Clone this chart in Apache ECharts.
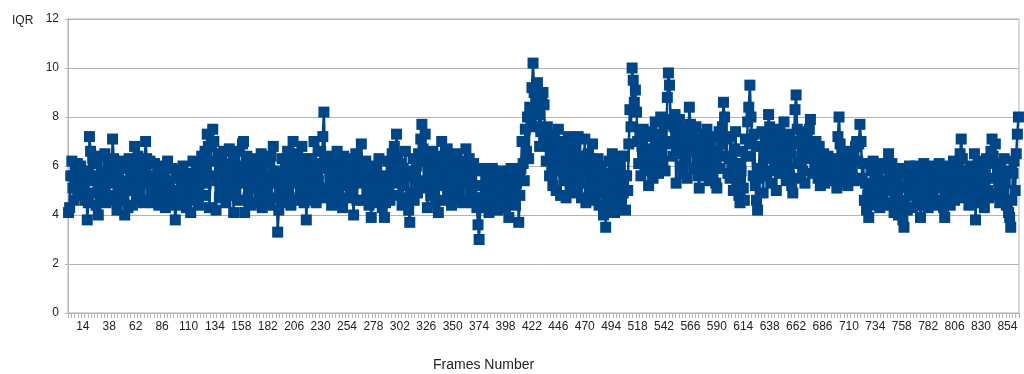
<!DOCTYPE html>
<html>
<head>
<meta charset="utf-8">
<script src="https://cdn.jsdelivr.net/npm/echarts@6/dist/echarts.min.js"></script>
<style>
  html, body { margin: 0; padding: 0; background: #ffffff; }
  #chart { width: 1024px; height: 374px; }
</style>
</head>
<body>
<div id="chart"></div>
<script>
// IQR per frame, in blocks of 24 frames (frames 1-24, 25-48, ...)
const iqrA = [
  4.1,4.3,5.6,6.2,5.1,4.6,5.9,5.3,6.1,4.8,5.5,6.0,4.9,5.7,5.2,4.6,5.8,3.8,4.5,7.2,6.6,5.4,6.3,4.9,
  5.6,4.4,6.1,4.0,5.2,6.4,4.7,5.8,5.0,6.5,4.5,5.5,6.2,4.8,5.9,5.3,7.1,6.3,4.6,5.7,4.2,5.1,6.0,4.9,
  5.4,6.2,4.6,4.0,5.3,5.9,4.3,6.3,5.0,5.7,4.4,6.0,6.8,5.2,4.7,6.4,5.5,4.9,6.1,5.3,4.5,5.8,7.0,6.3,
  5.6,4.6,6.2,5.0,5.5,4.5,6.1,5.3,4.8,5.9,4.4,5.6,6.0,5.1,4.7,5.8,4.3,5.4,6.2,4.9,5.2,4.5,5.9,5.0,
  4.6,3.8,4.4,5.5,4.9,5.8,4.5,5.2,6.0,4.8,5.4,4.3,5.7,5.0,4.6,4.1,5.3,6.2,5.6,4.7,5.9,5.1,4.4,6.1,
  5.5,6.4,4.8,5.9,6.6,5.3,7.3,6.8,4.3,5.6,6.9,7.5,7.0,6.2,4.2,5.4,6.5,4.7,5.8,6.3,4.9,6.6,5.2,4.5
];
const iqrB = [
  6.1,5.2,6.7,4.8,5.9,5.4,4.1,6.3,5.0,6.6,5.7,4.6,6.0,5.3,6.9,7.0,4.1,5.5,6.4,4.7,5.8,6.2,4.4,5.6,
  5.1,6.3,4.5,5.7,6.0,4.8,5.4,6.5,4.3,5.9,5.2,4.6,6.2,5.0,5.6,4.4,6.4,5.3,6.8,5.8,4.7,5.5,3.3,4.2,
  4.8,5.7,6.3,5.1,4.5,6.0,5.4,6.6,4.9,5.8,4.4,6.2,7.0,5.6,6.5,4.6,5.3,6.1,4.7,5.9,6.8,5.0,4.5,6.3,
  3.8,5.2,6.0,4.6,5.6,6.3,4.9,7.0,5.8,4.5,6.1,5.4,4.8,6.6,5.1,7.2,8.2,6.2,4.7,5.9,6.4,5.0,5.5,4.4,
  5.7,6.2,4.8,5.3,6.6,5.0,4.5,6.0,5.5,4.3,6.4,5.2,5.8,4.7,6.1,5.4,4.9,6.3,5.1,4.0,5.6,6.5,4.6,5.9,
  5.3,6.1,6.9,5.8,4.6,5.4,6.2,4.9,5.7,4.4,5.1,3.9,4.8,6.0,5.5,4.5,5.9,5.2,6.3,4.7,5.6,4.3,5.0,3.9
];
const iqrC = [
  4.5,5.4,6.2,5.0,4.6,5.8,6.5,5.3,6.8,5.7,7.3,6.4,4.8,5.5,6.1,4.4,5.9,5.2,6.6,4.7,5.6,4.2,3.7,4.9,
  5.8,6.3,4.6,5.5,6.0,4.9,6.5,5.4,7.1,7.7,6.7,5.1,7.3,6.2,4.3,5.7,6.4,4.8,5.3,6.6,5.0,4.5,6.1,5.6,
  4.1,5.9,6.4,7.0,5.2,4.6,6.1,5.5,6.7,4.8,5.8,6.3,4.4,5.6,6.0,5.1,4.7,6.5,5.4,4.9,6.2,5.7,4.5,5.3,
  6.0,6.7,4.6,5.4,6.3,4.9,5.7,4.5,6.1,4.7,5.8,4.3,3.6,3.0,4.4,5.2,4.7,5.9,4.3,5.5,4.8,5.3,4.1,5.6,
  5.0,5.9,4.4,5.3,4.8,5.7,4.2,5.5,5.1,4.6,5.8,4.9,5.4,4.3,5.6,4.7,3.9,5.2,5.9,4.5,5.0,5.7,4.4,5.3,
  5.5,3.7,4.8,5.9,7.0,6.1,5.4,7.5,6.6,8.0,6.3,8.4,7.8,9.2,10.2,9.0,7.6,8.7,9.4,8.1,6.8,7.4,8.8,9.0
];
const iqrD = [
  8.5,7.2,6.2,7.6,6.8,5.6,7.3,6.0,5.2,7.1,6.5,5.0,6.9,7.5,5.8,4.8,6.4,7.0,5.4,6.7,4.7,6.1,7.2,5.5,
  6.6,5.1,7.0,6.2,4.9,6.8,5.7,7.2,5.3,6.4,4.7,6.0,5.6,7.1,4.5,5.9,6.5,5.0,6.3,4.8,6.9,5.4,6.1,4.6,
  5.8,6.3,4.4,5.5,6.0,4.9,4.0,5.2,3.5,5.7,4.3,6.2,5.0,4.6,6.5,5.4,4.1,5.9,4.7,6.1,5.3,4.5,6.4,5.6,
  4.9,6.4,4.2,5.6,5.0,6.9,8.3,7.6,10.0,9.5,8.6,9.1,8.2,7.0,6.1,7.4,5.6,6.8,7.5,6.2,5.8,7.2,6.5,5.2,
  5.9,6.7,7.4,5.5,6.3,7.8,6.0,7.1,5.7,6.6,8.0,7.3,6.2,7.7,5.8,6.9,8.8,9.8,9.3,7.9,7.0,6.4,7.6,8.1,
  5.3,7.4,6.5,7.9,6.0,7.2,5.7,6.8,7.5,6.2,5.5,7.0,8.4,7.7,6.6,7.3,5.9,6.9,7.6,6.3,5.6,5.1,6.7,7.1
];
const iqrE = [
  6.0,7.3,5.6,6.8,7.5,6.2,5.4,7.0,6.5,5.8,7.2,6.1,5.3,5.1,6.6,7.4,5.9,6.9,7.6,8.6,8.0,6.4,7.1,5.7,
  6.3,5.5,7.2,6.0,5.0,6.7,7.4,5.4,6.1,4.8,4.5,5.8,6.6,5.1,4.6,7.1,6.4,7.8,8.4,9.3,8.0,6.9,5.6,7.3,
  5.2,4.6,4.2,5.5,6.8,5.9,7.4,4.9,6.3,7.0,5.6,6.5,8.1,7.6,5.3,6.9,5.8,7.2,6.1,5.0,7.5,6.4,5.7,6.8,
  6.2,7.1,7.8,6.0,5.4,6.7,7.3,5.6,6.5,5.2,4.9,6.9,8.3,8.9,7.5,6.1,5.5,7.0,6.4,5.8,7.2,5.3,6.6,7.4,
  6.3,7.5,7.9,6.6,5.7,6.9,5.9,7.0,6.2,5.5,6.8,5.2,6.0,5.6,6.5,5.3,6.1,5.8,6.4,5.4,5.9,6.2,5.5,6.0,
  5.6,6.3,5.1,7.2,8.0,6.9,5.7,6.5,5.3,6.1,5.8,6.6,5.2,6.0,6.4,5.5,5.9,6.2,5.4,6.8,7.0,6.2,6.9,7.7
];
const iqrF = [
  7.0,5.5,6.1,4.6,5.3,4.2,4.8,3.9,5.0,5.8,4.4,6.2,5.1,4.5,5.7,4.9,6.0,4.3,5.4,6.1,4.7,5.2,4.4,5.9,
  5.0,6.5,5.6,4.5,6.1,5.2,4.1,5.8,4.7,5.5,4.0,5.9,4.4,5.1,3.8,3.5,4.6,5.7,4.2,5.3,6.0,4.8,5.4,4.3,
  5.6,4.9,6.0,5.2,4.4,5.8,3.9,4.7,5.5,6.1,4.5,5.0,5.9,4.3,5.4,6.0,4.8,5.7,4.4,5.1,5.9,4.6,5.3,6.1,
  5.2,4.5,5.8,4.3,3.9,5.6,4.8,6.0,5.3,4.4,5.7,5.0,6.2,4.6,5.4,4.9,6.0,5.5,6.5,7.1,6.3,5.1,4.7,5.8,
  4.9,5.6,4.4,6.0,5.3,4.6,5.9,6.5,3.8,5.1,5.7,4.5,6.2,5.4,4.8,5.8,4.3,5.5,6.3,5.0,4.7,6.1,6.6,7.1,
  6.4,5.5,6.9,4.8,5.9,5.2,4.5,6.1,5.6,4.9,6.3,5.3,4.4,5.8,4.1,3.9,3.5,4.6,5.7,6.2,5.0,6.5,7.3,8.0
];

const iqr = [].concat(iqrA, iqrB, iqrC, iqrD, iqrE, iqrF);
// frame numbers 1..N along the category axis
const frames = iqr.map((_, i) => String(i + 1));
// frame labels are printed every 24 frames, starting at frame 14
const firstLabel = 14;
const labelStep = 24;
const yTicks = { min: 0, max: 12, step: 2 };

const FONT = '"Liberation Sans", Arial, sans-serif';
const GRID = '#b3b3b3';
const TEXT = '#222222';

const chart = echarts.init(document.getElementById('chart'), null, { renderer: 'canvas' });
chart.setOption({
  animation: false,
  backgroundColor: '#ffffff',
  grid: {
    left: 68, right: 5, top: 19, bottom: 61,
    show: true, borderColor: GRID, borderWidth: 1,
    containLabel: false
  },
  xAxis: {
    type: 'category',
    data: frames,
    boundaryGap: true,
    axisLine: { show: true, lineStyle: { color: GRID, width: 1 } },
    axisTick: { show: true, interval: 2, length: 5, lineStyle: { color: GRID, width: 1 } },
    axisLabel: {
      interval: (idx) => (idx + 1 - firstLabel) % labelStep === 0,
      margin: 8,
      color: TEXT,
      fontFamily: FONT,
      fontSize: 12
    },
    splitLine: { show: false }
  },
  yAxis: {
    type: 'value',
    min: yTicks.min,
    max: yTicks.max,
    interval: yTicks.step,
    axisLine: { show: true, lineStyle: { color: GRID, width: 1 } },
    axisTick: { show: true, length: 3, lineStyle: { color: GRID } },
    axisLabel: { margin: 9, color: TEXT, fontFamily: FONT, fontSize: 12 },
    splitLine: { show: true, lineStyle: { color: GRID, width: 1 } }
  },
  graphic: [
    {
      type: 'text', left: 12, top: 15,
      style: { text: 'IQR', fill: TEXT, font: '12px ' + FONT }
    },
    {
      type: 'text', left: 433, top: 358,
      style: { text: 'Frames Number', fill: TEXT, font: '14px ' + FONT }
    }
  ],
  series: [{
    type: 'line',
    data: iqr,
    symbol: 'rect',
    symbolSize: 11,
    showAllSymbol: true,
    sampling: null,
    itemStyle: { color: '#004586' },
    lineStyle: { color: '#004586', width: 2.5 },
    emphasis: { disabled: true }
  }]
});
</script>
</body>
</html>
